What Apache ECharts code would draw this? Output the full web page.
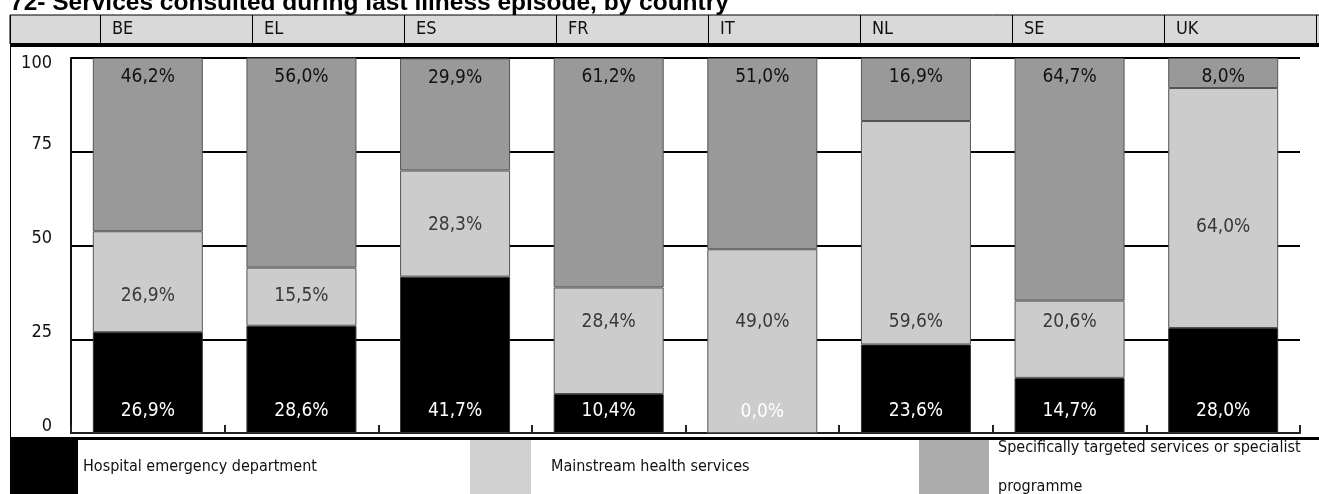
<!DOCTYPE html>
<html>
<head>
<meta charset="utf-8">
<script src="https://cdn.jsdelivr.net/npm/echarts@6/dist/echarts.min.js"></script>
<style>
html,body{margin:0;padding:0;background:#fff;}
#chart{width:1319px;height:494px;}
</style>
</head>
<body>
<div id="chart"></div>
<script>
// ---- data ----
const titleText = '72- Services consulted during last illness episode, by country';
const categories = ['BE', 'EL', 'ES', 'FR', 'IT', 'NL', 'SE', 'UK'];
const seriesNames = ['Hospital emergency department', 'Mainstream health services', 'Specifically targeted services or specialist programme'];
const emergency  = [26.9, 28.6, 41.7, 10.4, 0.0, 23.6, 14.7, 28.0];
const mainstream = [26.9, 15.5, 28.3, 28.4, 49.0, 59.6, 20.6, 64.0];
const specific   = [46.2, 56.0, 29.9, 61.2, 51.0, 16.9, 64.7, 8.0];
// where the "mainstream" value labels sit on the 0-100 scale
const mainstreamLabelAt = [36.5, 36.5, 55.5, 29.6, 29.6, 29.6, 29.6, 55];
const yMin = 0, yMax = 100, yStep = 25;

const FONT = "'Liberation Sans Narrow','DejaVu Sans Condensed','Noto Sans',sans-serif";
const fmt = v => v.toFixed(1).replace('.', ',') + '%';

const chart = echarts.init(document.getElementById('chart'), null, {renderer: 'canvas'});

const barBase = {type: 'bar', stack: 'total', barWidth: 110, xAxisIndex: 0, yAxisIndex: 0};
const LBL = 19;

const option = {
  backgroundColor: '#ffffff',
  animation: false,
  textStyle: {fontFamily: FONT},
  grid: [
    {left: 71, right: 19, top: 58, bottom: 61},
    {left: 100, right: -1, top: 15, height: 29, show: false}
  ],
  xAxis: [
    {
      gridIndex: 0, type: 'category', data: categories,
      axisLine: {show: true, lineStyle: {color: '#222', width: 2}},
      axisTick: {show: true, inside: true, length: 8, lineStyle: {color: '#222', width: 2}},
      axisLabel: {show: false},
      splitLine: {show: false}
    },
    {
      gridIndex: 1, type: 'category', boundaryGap: false, data: categories.concat(['']),
      axisLine: {show: false}, axisTick: {show: false},
      splitLine: {show: true, lineStyle: {color: '#000', width: 1}},
      axisLabel: {inside: true, interval: 0, align: 'left', verticalAlign: 'middle', margin: 15,
        padding: [0, 0, 0, 12], fontSize: 18, color: '#111', fontFamily: FONT}
    }
  ],
  yAxis: [
    {
      gridIndex: 0, type: 'value', min: yMin, max: yMax, interval: yStep,
      axisLine: {show: true, lineStyle: {color: '#111', width: 2}},
      axisTick: {show: false},
      splitLine: {show: true, lineStyle: {color: '#000', width: 2}},
      axisLabel: {
        margin: 19, fontSize: 18, color: '#111', fontFamily: FONT,
        formatter: v => v === yMax ? '{top|' + v + '}' : '{n|' + v + '}',
        rich: {
          top: {fontSize: 18, color: '#111', fontFamily: FONT, padding: [10, 0, 0, 0]},
          n: {fontSize: 18, color: '#111', fontFamily: FONT, padding: [0, 0, 14, 0]}
        }
      }
    },
    {gridIndex: 1, type: 'value', show: false}
  ],
  legend: [
    {
      data: [{name: seriesNames[0], itemStyle: {color: '#000000', borderWidth: 0}}],
      left: 10, top: 440, padding: 0, icon: 'rect', itemWidth: 68, itemHeight: 54,
      selectedMode: false,
      textStyle: {fontSize: 16, color: '#111', fontFamily: FONT}
    },
    {
      data: [{name: seriesNames[1], itemStyle: {color: '#d0d0d0', borderWidth: 0}}],
      left: 470, top: 440, padding: 0, icon: 'rect', itemWidth: 61, itemHeight: 54,
      selectedMode: false,
      textStyle: {fontSize: 16, color: '#111', fontFamily: FONT, padding: [0, 0, 0, 15]}
    },
    {
      data: [{name: seriesNames[2], itemStyle: {color: '#ababab', borderWidth: 0}}],
      left: 919, top: 428, padding: 0, icon: 'rect', itemWidth: 70, itemHeight: 54,
      selectedMode: false,
      textStyle: {fontSize: 16, color: '#111', fontFamily: FONT, width: 318, overflow: 'break', lineHeight: 39, padding: [0, 0, 0, 4]}
    }
  ],
  series: [
    Object.assign({}, barBase, {
      name: seriesNames[0], data: emergency,
      itemStyle: {color: '#000000', borderColor: '#333', borderWidth: 1},
      label: {show: true, position: 'insideBottom', distance: 12, color: '#ffffff',
        fontSize: LBL, fontFamily: FONT, formatter: p => fmt(p.value)}
    }),
    Object.assign({}, barBase, {
      name: seriesNames[1], data: mainstream,
      itemStyle: {color: '#cccccc', borderColor: '#555', borderWidth: 1},
      label: {show: false}
    }),
    Object.assign({}, barBase, {
      name: seriesNames[2], data: specific,
      itemStyle: {color: '#999999', borderColor: '#555', borderWidth: 1},
      label: {show: true, position: 'insideTop', distance: 10, color: '#111',
        fontSize: LBL, fontFamily: FONT, formatter: p => fmt(p.value)}
    }),
    {
      type: 'scatter', xAxisIndex: 0, yAxisIndex: 0, silent: true,
      data: categories.map((c, i) => [i, mainstreamLabelAt[i]]),
      symbolSize: 1, itemStyle: {color: 'rgba(0,0,0,0)'}, z: 5,
      label: {show: true, position: 'inside', color: '#111', fontSize: LBL, fontFamily: FONT,
        formatter: p => fmt(mainstream[p.dataIndex])}
    }
  ],
  graphic: [
    {type: 'rect', z: -1, shape: {x: 10, y: 15, width: 1312, height: 29}, style: {fill: '#d9d9d9', stroke: '#000', lineWidth: 1}},
    {type: 'rect', z: 10, shape: {x: 10, y: 43, width: 1309, height: 4}, style: {fill: '#000'}},
    {type: 'rect', z: 10, shape: {x: 10, y: 437, width: 1309, height: 3}, style: {fill: '#000'}},
    {type: 'line', z: 10, shape: {x1: 10.5, y1: 15, x2: 10.5, y2: 437}, style: {stroke: '#000', lineWidth: 1}},
    {type: 'text', z: 10, x: 10, y: 16, style: {text: titleText, font: "bold 24.5px 'Liberation Sans','DejaVu Sans',sans-serif", fill: '#000', verticalAlign: 'bottom'}}
  ]
};
chart.setOption(option);
</script>
</body>
</html>
